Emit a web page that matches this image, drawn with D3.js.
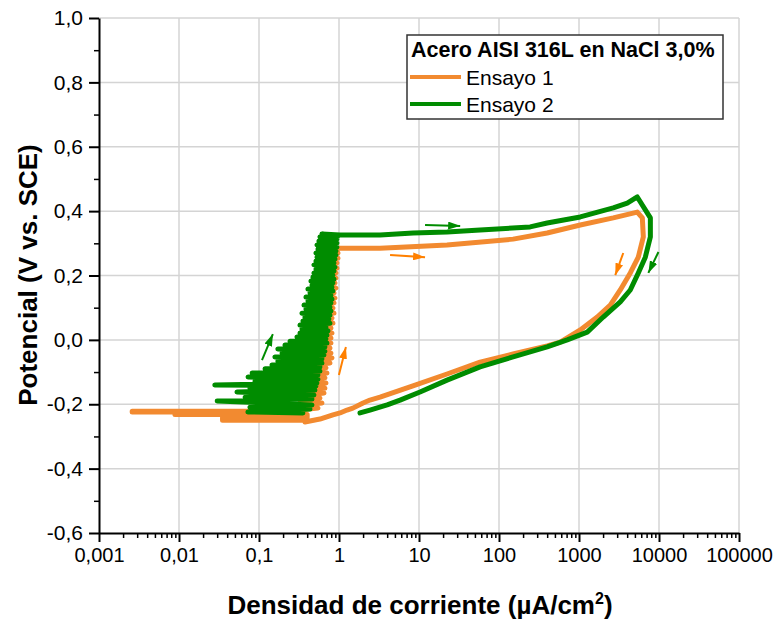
<!DOCTYPE html>
<html>
<head>
<meta charset="utf-8">
<script src="https://cdn.jsdelivr.net/npm/d3@7"></script>
<style>
  body { margin: 0; background: #fff; }
  svg text { font-family: "Liberation Sans", Arial, sans-serif; fill: #000; }
</style>
</head>
<body>
<div id="chart"></div>
<script>
// Axis ticks
const X_TICKS = [0.001, 0.01, 0.1, 1, 10, 100, 1000, 10000, 100000];
const X_TICK_LABELS = ['0,001', '0,01', '0,1', '1', '10', '100', '1000', '10000', '100000'];
const Y_TICKS = [-0.6, -0.4, -0.2, 0.0, 0.2, 0.4, 0.6, 0.8, 1.0];
const Y_TICK_LABELS = ['-0,6', '-0,4', '-0,2', '0,0', '0,2', '0,4', '0,6', '0,8', '1,0'];

const SERIES_NAMES = ['Ensayo 1', 'Ensayo 2'];
const LEGEND_TITLE = 'Acero AISI 316L en NaCl 3,0%';

// Ensayo 1: [current density µA/cm², potential V]
const ensayo1 = [
  [0.375, -0.250], [0.035, -0.250], [0.035, -0.241], [0.40, -0.241], [0.40, -0.232],
  [0.0089, -0.232], [0.0089, -0.224], [0.0026, -0.224], [0.0026, -0.222], [0.30, -0.222],
  [0.325, -0.218],
  [0.546, -0.212], [0.375, -0.202], [0.612, -0.196], [0.325, -0.187], [0.578, -0.181],
  [0.409, -0.171], [0.649, -0.165], [0.354, -0.156], [0.667, -0.150], [0.434, -0.140],
  [0.687, -0.134], [0.409, -0.125], [0.667, -0.118], [0.459, -0.109], [0.707, -0.103],
  [0.434, -0.094], [0.687, -0.087], [0.472, -0.078], [0.771, -0.072], [0.500, -0.063],
  [0.817, -0.056], [0.546, -0.047], [0.793, -0.041], [0.578, -0.031], [0.771, -0.025],
  [0.546, -0.016], [0.793, -0.010], [0.612, 0.000], [0.793, 0.006], [0.578, 0.015],
  [0.817, 0.021], [0.612, 0.031], [0.793, 0.037], [0.630, 0.046], [0.840, 0.052],
  [0.667, 0.062], [0.817, 0.068], [0.649, 0.077], [0.865, 0.083], [0.687, 0.093],
  [0.840, 0.099], [0.667, 0.108], [0.865, 0.115], [0.707, 0.124], [0.890, 0.130],
  [0.687, 0.139], [0.865, 0.146], [0.728, 0.155], [0.916, 0.161], [0.707, 0.170],
  [0.890, 0.177], [0.748, 0.186], [0.916, 0.192], [0.728, 0.201], [0.916, 0.208],
  [0.771, 0.217], [0.942, 0.223], [0.748, 0.233], [0.942, 0.239], [0.793, 0.248],
  [0.970, 0.254], [0.817, 0.264], [0.970, 0.270], [0.840, 0.279], [0.997, 0.285],
  [1.83, 0.285], [3.26, 0.285], [22.4, 0.295], [150, 0.313], [400, 0.332],
  [1037, 0.357], [2680, 0.379], [5350, 0.397], [6190, 0.379], [6370, 0.320],
  [5510, 0.257], [4375, 0.208], [3280, 0.155], [2460, 0.108], [1690, 0.071],
  [1037, 0.031], [582, -0.007], [400, -0.019], [150, -0.044], [58, -0.069],
  [22.4, -0.106], [8.4, -0.143], [3.26, -0.178], [2.44, -0.187], [2.0, -0.196],
  [1.49, -0.212], [1.26, -0.218], [1.03, -0.227], [0.84, -0.233], [0.578, -0.246],
  [0.375, -0.255]
];

// Ensayo 2: [current density µA/cm², potential V]
const ensayo2 = [
  [0.354, -0.227], [0.0726, -0.224],
  [0.434, -0.215], [0.077, -0.209], [0.459, -0.202], [0.030, -0.190], [0.459, -0.184],
  [0.067, -0.178], [0.486, -0.171], [0.053, -0.162], [0.500, -0.156], [0.077, -0.150],
  [0.515, -0.143], [0.028, -0.140], [0.530, -0.134], [0.089, -0.128], [0.546, -0.122],
  [0.073, -0.115], [0.546, -0.109], [0.082, -0.103], [0.578, -0.097], [0.119, -0.090],
  [0.578, -0.084], [0.145, -0.078], [0.612, -0.072], [0.172, -0.066], [0.612, -0.059],
  [0.158, -0.053], [0.649, -0.047], [0.194, -0.041], [0.667, -0.035], [0.172, -0.028],
  [0.667, -0.022], [0.211, -0.016], [0.707, -0.010], [0.244, -0.004], [0.687, 0.003],
  [0.298, 0.009], [0.707, 0.015], [0.325, 0.021], [0.728, 0.028], [0.344, 0.034],
  [0.687, 0.040], [0.325, 0.046], [0.771, 0.052], [0.354, 0.059], [0.748, 0.065],
  [0.375, 0.071], [0.771, 0.077], [0.344, 0.083], [0.793, 0.090], [0.386, 0.096],
  [0.771, 0.102], [0.365, 0.108], [0.793, 0.115], [0.409, 0.121], [0.817, 0.127],
  [0.386, 0.133], [0.793, 0.139], [0.434, 0.146], [0.840, 0.152], [0.409, 0.158],
  [0.817, 0.164], [0.459, 0.170], [0.840, 0.177], [0.446, 0.183], [0.865, 0.189],
  [0.472, 0.195], [0.840, 0.201], [0.486, 0.208], [0.865, 0.214], [0.515, 0.220],
  [0.890, 0.226], [0.486, 0.233], [0.865, 0.239], [0.515, 0.245], [0.890, 0.251],
  [0.530, 0.257], [0.916, 0.264], [0.515, 0.270], [0.916, 0.276], [0.546, 0.282],
  [0.942, 0.288], [0.530, 0.295], [0.942, 0.301], [0.561, 0.307], [0.942, 0.313],
  [0.578, 0.320], [0.970, 0.323], [0.612, 0.329], [1.03, 0.326],
  [3.26, 0.326], [8.43, 0.332], [22.4, 0.335], [58.1, 0.341], [245, 0.351],
  [400, 0.363], [1037, 0.382], [2680, 0.410], [4010, 0.425], [5350, 0.444],
  [7800, 0.379], [7800, 0.320], [6745, 0.257], [5510, 0.208], [4375, 0.155],
  [3280, 0.118], [2009, 0.071], [1268, 0.024], [713, 0.000], [400, -0.022],
  [150, -0.053], [58, -0.084], [22.4, -0.125], [10.3, -0.162], [5.8, -0.187],
  [4.0, -0.202], [2.44, -0.218], [1.83, -0.227]
];

// Direction arrows: [[tail current, tail potential], [tip current, tip potential]]
const arrows1 = [
  [[0.997, -0.109], [1.22, -0.022]],
  [[4.35, 0.264], [11.9, 0.257]],
  [[3575, 0.270], [2840, 0.201]]
];
const arrows2 = [
  [[0.109, -0.063], [0.149, 0.018]],
  [[11.9, 0.357], [32.7, 0.354]],
  [[9840, 0.273], [7360, 0.208]]
];

const COLORS = ['#F28A30', '#008C00'];
const ARROW_COLORS = ['#FF8000', '#008C00'];

const WIDTH = 778, HEIGHT = 623;
const MARGIN = { top: 18, left: 99 };
const W = 640, H = 515;

const svg = d3.select('#chart').append('svg')
  .attr('width', WIDTH).attr('height', HEIGHT);

const defs = svg.append('defs');
ARROW_COLORS.forEach((c, k) => {
  defs.append('marker')
    .attr('id', 'head' + k)
    .attr('viewBox', '0 0 12 8')
    .attr('refX', 12).attr('refY', 4)
    .attr('markerWidth', 12).attr('markerHeight', 8)
    .attr('markerUnits', 'userSpaceOnUse')
    .attr('orient', 'auto')
    .append('path').attr('d', 'M0,0 L12,4 L0,8 Z').attr('fill', c);
});

const g = svg.append('g').attr('transform', `translate(${MARGIN.left},${MARGIN.top})`);

const x = d3.scaleLog().domain([0.001, 100000]).range([0, W]);
const y = d3.scaleLinear().domain([-0.6, 1.0]).range([H, 0]);

// Gridlines
g.append('g').selectAll('line').data(X_TICKS.slice(1))
  .join('line')
    .attr('x1', d => x(d)).attr('x2', d => x(d))
    .attr('y1', 0).attr('y2', H)
    .attr('stroke', '#d4d4d4').attr('stroke-width', 1.5);
g.append('g').selectAll('line').data(Y_TICKS.slice(1))
  .join('line')
    .attr('x1', 0).attr('x2', W)
    .attr('y1', d => y(d)).attr('y2', d => y(d))
    .attr('stroke', '#d4d4d4').attr('stroke-width', 1.5);

// Curves
const line = d3.line().x(d => x(d[0])).y(d => y(d[1]));
[ensayo1, ensayo2].forEach((data, k) => {
  g.append('path')
    .datum(data)
    .attr('d', line)
    .attr('fill', 'none')
    .attr('stroke', COLORS[k])
    .attr('stroke-width', 5)
    .attr('stroke-linejoin', 'round')
    .attr('stroke-linecap', 'round');
});

// Arrows
[arrows1, arrows2].forEach((arr, k) => {
  g.append('g').selectAll('line').data(arr)
    .join('line')
      .attr('x1', d => x(d[0][0])).attr('y1', d => y(d[0][1]))
      .attr('x2', d => x(d[1][0])).attr('y2', d => y(d[1][1]))
      .attr('stroke', ARROW_COLORS[k])
      .attr('stroke-width', 2)
      .attr('marker-end', `url(#head${k})`);
});

// Minor ticks
const xMinor = [];
for (let e = -3; e < 5; e++) for (let m = 2; m <= 9; m++) xMinor.push(m * Math.pow(10, e));
const yMinor = [-0.5, -0.3, -0.1, 0.1, 0.3, 0.5, 0.7, 0.9];

g.append('g').attr('transform', `translate(0,${H})`)
  .call(d3.axisBottom(x).tickValues(xMinor).tickSize(5).tickFormat('').tickSizeOuter(0))
  .call(ax => ax.select('.domain').remove())
  .selectAll('line').attr('stroke-width', 1.5);
g.append('g')
  .call(d3.axisLeft(y).tickValues(yMinor).tickSize(5).tickFormat('').tickSizeOuter(0))
  .call(ax => ax.select('.domain').remove())
  .selectAll('line').attr('stroke-width', 1.5);

// Major axes
g.append('g').attr('transform', `translate(0,${H})`)
  .call(d3.axisBottom(x).tickValues(X_TICKS).tickSize(9).tickSizeOuter(0).tickPadding(6)
    .tickFormat((d, i) => X_TICK_LABELS[i]))
  .call(ax => ax.select('.domain').attr('stroke-width', 2))
  .call(ax => ax.selectAll('line').attr('stroke-width', 2))
  .call(ax => ax.selectAll('text').style('font-size', '20px').attr('fill', '#000'));

g.append('g')
  .call(d3.axisLeft(y).tickValues(Y_TICKS).tickSize(10).tickSizeOuter(0).tickPadding(6)
    .tickFormat((d, i) => Y_TICK_LABELS[i]))
  .call(ax => ax.select('.domain').attr('stroke-width', 2))
  .call(ax => ax.selectAll('line').attr('stroke-width', 2))
  .call(ax => ax.selectAll('text').style('font-size', '21px').attr('fill', '#000'));

// Axis titles
const xt = svg.append('text')
  .attr('x', 420).attr('y', 614)
  .attr('text-anchor', 'middle')
  .style('font-size', '26px').style('font-weight', 'bold');
xt.append('tspan').text('Densidad de corriente (µA/cm');
xt.append('tspan').text('2').attr('dy', -10).style('font-size', '16px');
xt.append('tspan').text(')').attr('dy', 10);

svg.append('text')
  .attr('transform', 'translate(37,275) rotate(-90)')
  .attr('text-anchor', 'middle')
  .style('font-size', '26px').style('font-weight', 'bold')
  .text('Potencial (V vs. SCE)');

// Legend
const lg = svg.append('g');
lg.append('rect')
  .attr('x', 407).attr('y', 35).attr('width', 316).attr('height', 84)
  .attr('fill', '#fff').attr('stroke', '#333').attr('stroke-width', 1.5);
lg.append('text')
  .attr('x', 411).attr('y', 57)
  .style('font-size', '21.5px').style('font-weight', 'bold')
  .text(LEGEND_TITLE);
SERIES_NAMES.forEach((name, k) => {
  const ly = 77 + k * 27;
  lg.append('line')
    .attr('x1', 410).attr('x2', 461).attr('y1', ly).attr('y2', ly)
    .attr('stroke', COLORS[k]).attr('stroke-width', 4);
  lg.append('text')
    .attr('x', 466).attr('y', ly + 7.5)
    .style('font-size', '21px')
    .text(name);
});
</script>
</body>
</html>
